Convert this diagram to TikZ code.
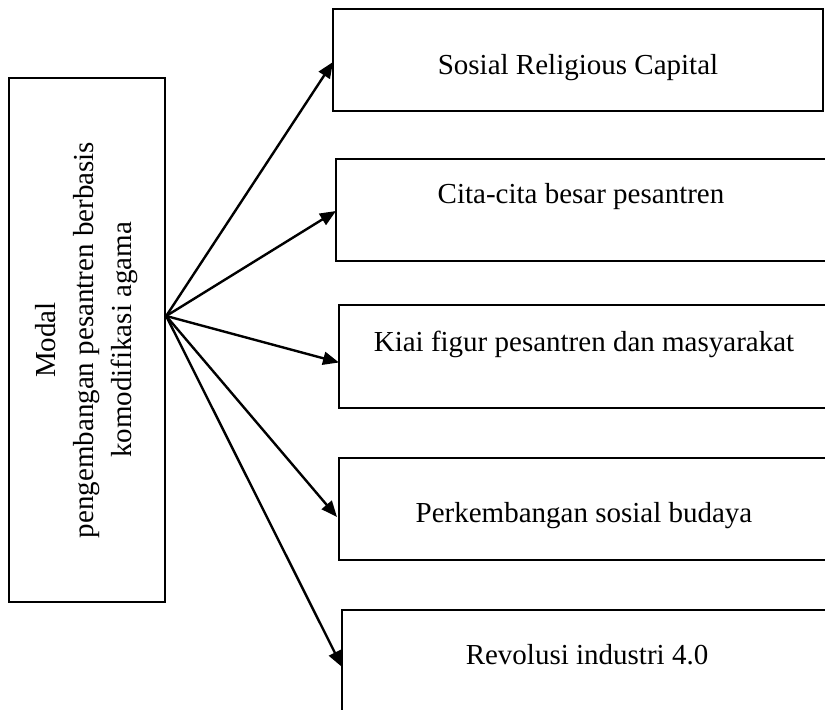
\documentclass[tikz,border=0pt]{standalone}
\usepackage{fontspec}
\setmainfont{Liberation Serif}
\usepackage{tikz}
\usetikzlibrary{arrows.meta,%
                shapes,positioning}

\begin{document}
\begin{tikzpicture}[
x=0.5pt, y=-0.5pt,
line width=1.2pt,
capbox/.style 2 args={draw, anchor=north west, inner sep=0pt, outer sep=0pt,
  minimum width=245pt, text height=#1, text depth=#2},
every node/.style={font=\fontsize{14.5}{19}\selectfont},
link/.style={-{Triangle[length=8pt,width=6.5pt]}}]
\useasboundingbox (0,0) rectangle (825,710);
\clip (0,0) rectangle (825,710);
\node [draw, rotate=90, minimum width=262pt, minimum height=78pt,
       inner sep=0pt, align=center] (modal) at (87,340)
  {Modal\\pengembangan pesantren berbasis\\komodifikasi agama};
\node [capbox={33pt}{18pt}] (src) at (333,9) {Sosial Religious Capital};
\node [capbox={22.5pt}{28.5pt}] (cita) at (336,159) {Cita-cita besar pesantren};
\node [capbox={23.5pt}{28pt}] (kiai) at (339,305) {Kiai figur pesantren dan masyarakat};
\node [capbox={32.5pt}{18.5pt}] (budaya) at (339,458) {Perkembangan sosial budaya};
\node [capbox={27.5pt}{23.5pt}] (revolusi) at (342,610) {Revolusi industri 4.0};
\coordinate (hub) at ([yshift=12pt]modal.south);
\draw [link] (hub) -- ([yshift=-1pt]src.west);
\draw [link] (hub) -- ([yshift=-0.5pt]cita.west);
\draw [link] (hub) -- ([yshift=-3pt]kiai.west);
\draw [link] (hub) -- ([xshift=-1pt,yshift=-4pt]budaya.west);
\draw [link] (hub) -- ([yshift=-3pt]revolusi.west);
\end{tikzpicture}
\end{document}
